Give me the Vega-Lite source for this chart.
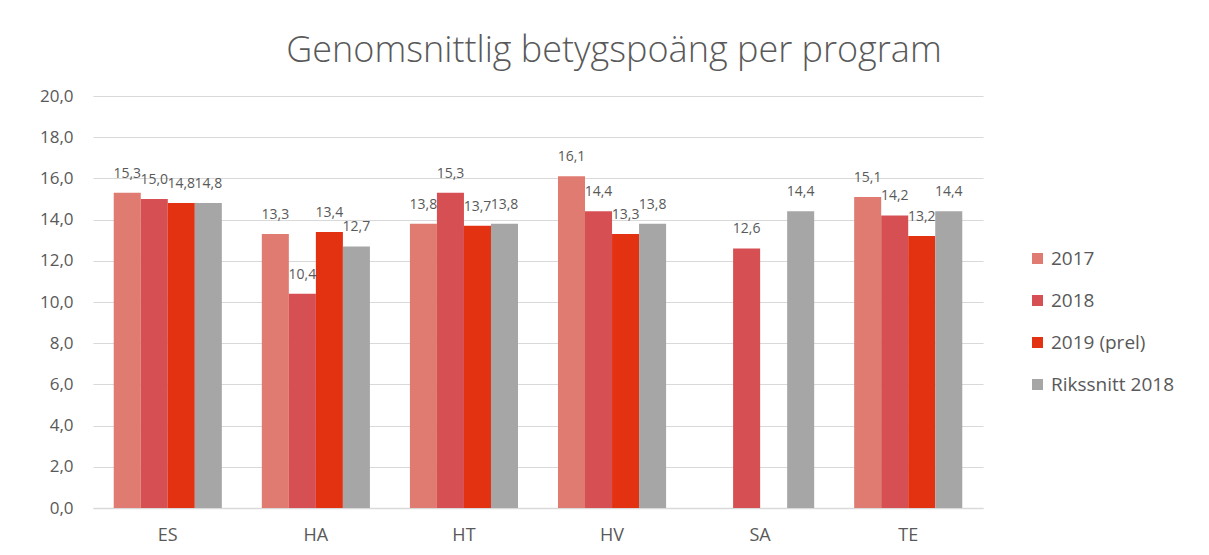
{
  "$schema": "https://vega.github.io/schema/vega-lite/v6.json",
  "width": 890,
  "height": 412,
  "autosize": "none",
  "padding": {"left": 93, "top": 96, "right": 226, "bottom": 47},
  "background": "white",
  "config": {
    "locale": {"number": {"decimal": ",", "thousands": " ", "grouping": [3], "currency": ["", " kr"]}},
    "font": "Open Sans",
    "view": {"stroke": null}
  },
  "title": {
    "text": "Genomsnittlig betygspoäng per program",
    "fontSize": 36,
    "font": "Open Sans",
    "fontWeight": 300,
    "color": "#595959",
    "anchor": "middle",
    "dx": 76,
    "offset": 17
  },
  "data": {
    "values": [
      {"program": "ES", "serie": "2017", "varde": 15.3},
      {"program": "ES", "serie": "2018", "varde": 15.0},
      {"program": "ES", "serie": "2019 (prel)", "varde": 14.8},
      {"program": "ES", "serie": "Rikssnitt 2018", "varde": 14.8},
      {"program": "HA", "serie": "2017", "varde": 13.3},
      {"program": "HA", "serie": "2018", "varde": 10.4},
      {"program": "HA", "serie": "2019 (prel)", "varde": 13.4},
      {"program": "HA", "serie": "Rikssnitt 2018", "varde": 12.7},
      {"program": "HT", "serie": "2017", "varde": 13.8},
      {"program": "HT", "serie": "2018", "varde": 15.3},
      {"program": "HT", "serie": "2019 (prel)", "varde": 13.7},
      {"program": "HT", "serie": "Rikssnitt 2018", "varde": 13.8},
      {"program": "HV", "serie": "2017", "varde": 16.1},
      {"program": "HV", "serie": "2018", "varde": 14.4},
      {"program": "HV", "serie": "2019 (prel)", "varde": 13.3},
      {"program": "HV", "serie": "Rikssnitt 2018", "varde": 13.8},
      {"program": "SA", "serie": "2018", "varde": 12.6},
      {"program": "SA", "serie": "Rikssnitt 2018", "varde": 14.4},
      {"program": "TE", "serie": "2017", "varde": 15.1},
      {"program": "TE", "serie": "2018", "varde": 14.2},
      {"program": "TE", "serie": "2019 (prel)", "varde": 13.2},
      {"program": "TE", "serie": "Rikssnitt 2018", "varde": 14.4}
    ]
  },
  "encoding": {
    "x": {
      "field": "program",
      "type": "nominal",
      "scale": {"paddingInner": 0.27, "paddingOuter": 0.14},
      "axis": {
        "title": null,
        "labelAngle": 0,
        "labelFontSize": 18,
        "labelColor": "#595959",
        "labelPadding": 18,
        "ticks": false,
        "domainColor": "#D9D9D9",
        "domainWidth": 1.5
      }
    },
    "xOffset": {"field": "serie", "type": "nominal", "sort": ["2017", "2018", "2019 (prel)", "Rikssnitt 2018"]},
    "y": {
      "field": "varde",
      "type": "quantitative",
      "scale": {"domain": [0, 20]},
      "axis": {
        "title": null,
        "values": [0, 2, 4, 6, 8, 10, 12, 14, 16, 18, 20],
        "format": ".1f",
        "labelFontSize": 17,
        "labelColor": "#595959",
        "labelPadding": 20,
        "ticks": false,
        "domain": false,
        "gridColor": "#D9D9D9",
        "gridWidth": 1.2
      }
    }
  },
  "layer": [
    {
      "mark": {"type": "bar"},
      "encoding": {
        "color": {
          "field": "serie",
          "type": "nominal",
          "sort": ["2017", "2018", "2019 (prel)", "Rikssnitt 2018"],
          "scale": {
            "domain": ["2017", "2018", "2019 (prel)", "Rikssnitt 2018"],
            "range": ["#E07B71", "#D64F53", "#E23212", "#A6A6A6"]
          },
          "legend": {
            "title": null,
            "orient": "none",
            "legendX": 935,
            "legendY": 153,
            "symbolType": "square",
            "symbolSize": 121,
            "symbolStrokeWidth": 0,
            "labelFontSize": 19,
            "labelColor": "#595959",
            "rowPadding": 22,
            "labelOffset": 4
          }
        }
      }
    },
    {
      "mark": {"type": "text", "baseline": "alphabetic", "dy": -15, "fontSize": 14, "color": "#595959"},
      "encoding": {
        "text": {"field": "varde", "type": "quantitative", "format": ".1f"}
      }
    }
  ]
}
